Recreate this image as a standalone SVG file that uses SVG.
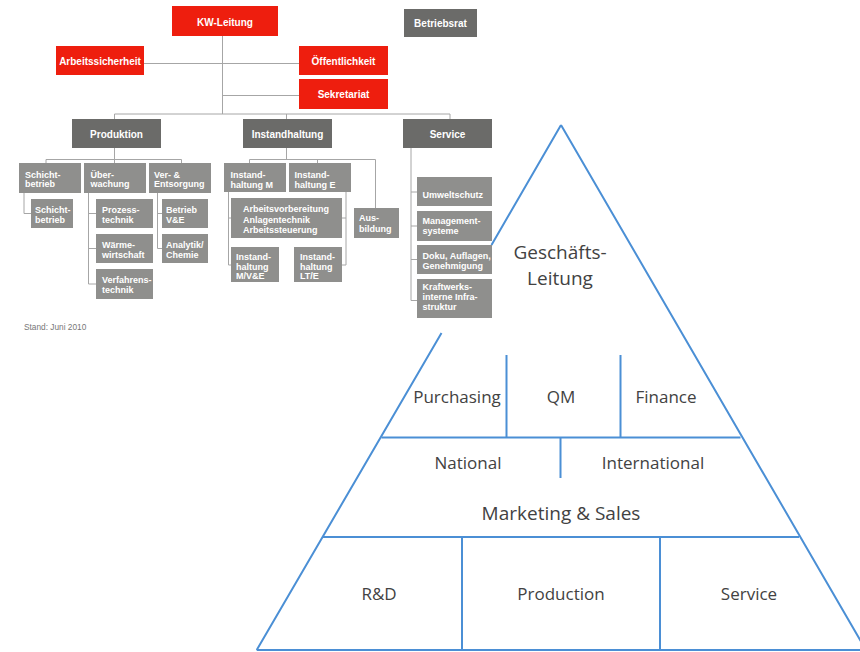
<svg xmlns="http://www.w3.org/2000/svg" width="860" height="652" viewBox="0 0 860 652">
<style>
.pl{stroke:#4b8fd5;stroke-width:2;fill:none;stroke-linecap:butt}
.pt{font-family:"Open Sans","Liberation Sans",sans-serif;fill:#424242;text-anchor:middle}
.red{fill:#ee1e0e}
.dk{fill:#6b6b69}
.md{fill:#8f8f8d}
.cn{stroke:#a6a6a6;stroke-width:1;fill:none}
.t1{font-family:"Liberation Sans",Arial,sans-serif;font-weight:bold;font-size:10px;fill:#fff;text-anchor:middle}
.t3{font-family:"Liberation Sans",Arial,sans-serif;font-weight:bold;font-size:9px;fill:#fff}
.st{font-family:"Liberation Sans",Arial,sans-serif;font-size:8.3px;fill:#777}
</style>

<g id="pyramid">
  <path class="pl" d="M561,125 L491.5,245 M441.5,333 L256.7,650 M561,125 L866,650"/>
  <path class="pl" d="M381.5,437.5 H740.5 M323,537 H799 M256.7,650 H860"/>
  <path class="pl" d="M506.5,355 V438 M620.5,355 V437.5 M560.5,437.5 V478 M462,537 V650 M660,537 V650"/>
  <g id="p-gl"><text class="pt" x="560" y="259" font-size="19">Geschäfts-</text><text class="pt" x="560" y="285" font-size="19">Leitung</text></g>
  <g id="p-purch"><text class="pt" x="457" y="403" font-size="17">Purchasing</text></g>
  <g id="p-qm"><text class="pt" x="561" y="403" font-size="17">QM</text></g>
  <g id="p-fin"><text class="pt" x="666" y="403" font-size="17">Finance</text></g>
  <g id="p-nat"><text class="pt" x="468" y="469" font-size="17">National</text></g>
  <g id="p-int"><text class="pt" x="653" y="469" font-size="17">International</text></g>
  <g id="p-ms"><text class="pt" x="561" y="519.5" font-size="19">Marketing &amp; Sales</text></g>
  <g id="p-rd"><text class="pt" x="379" y="600" font-size="17">R&amp;D</text></g>
  <g id="p-prod"><text class="pt" x="561" y="600" font-size="17">Production</text></g>
  <g id="p-serv"><text class="pt" x="749" y="600" font-size="17">Service</text></g>
</g>

<g id="connectors">
  <path class="cn" d="M222.5,36 V114 M144,63.5 H299 M222.5,95.5 H299 M114.5,114 H450 M114.5,114 V119 M286.5,114 V119 M450,114 V119"/>
  <path class="cn" d="M114.5,148 V163 M46,159.5 H181.5 M46,159.5 V163 M181.5,159.5 V163"/>
  <path class="cn" d="M24,193 V213.5 H31 M88.5,193 V284 H96 M88.5,213.5 H96 M88.5,248.5 H96 M157.5,193 V248.5 H162 M157.5,213.5 H162"/>
  <path class="cn" d="M286.5,148 V159.5 M249.5,159.5 H375.5 M249.5,159.5 V163 M317.5,159.5 V163 M375.5,159.5 V208"/>
  <path class="cn" d="M228.5,192 V265 H231 M228.5,218 H231 M346,192 V265 H342 M346,218 H342"/>
  <path class="cn" d="M411,148 V300.5 H417 M411,192 H417 M411,226 H417 M411,259.5 H417"/>
</g>

<g id="kw-leitung"><rect class="red" x="172" y="6" width="106" height="30"/><text class="t1" x="225" y="25.5" font-size="10.5">KW-Leitung</text></g>
<g id="betriebsrat"><rect class="dk" x="404" y="9" width="73" height="28"/><text class="t1" x="440.5" y="26.5">Betriebsrat</text></g>
<g id="arbeitssicherheit"><rect class="red" x="56" y="46" width="88" height="29"/><text class="t1" x="100" y="64.5">Arbeitssicherheit</text></g>
<g id="oeffentlichkeit"><rect class="red" x="299" y="46" width="89" height="29"/><text class="t1" x="343.5" y="64.5">Öffentlichkeit</text></g>
<g id="sekretariat"><rect class="red" x="299" y="79" width="89" height="30"/><text class="t1" x="343.5" y="98">Sekretariat</text></g>

<g id="produktion"><rect class="dk" x="72" y="119" width="89" height="29"/><text class="t1" x="116.5" y="137.5">Produktion</text></g>
<g id="instandhaltung"><rect class="dk" x="243" y="119" width="89" height="29"/><text class="t1" x="287.5" y="137.5">Instandhaltung</text></g>
<g id="service"><rect class="dk" x="403" y="119" width="89" height="29"/><text class="t1" x="447.5" y="137.5">Service</text></g>

<g id="schichtbetrieb"><rect class="md" x="19" y="163" width="62" height="30"/><text class="t3" x="25" y="177.5">Schicht-</text><text class="t3" x="25" y="187">betrieb</text></g>
<g id="ueberwachung"><rect class="md" x="84" y="163" width="62" height="30"/><text class="t3" x="90.5" y="177.5">Über-</text><text class="t3" x="90.5" y="187">wachung</text></g>
<g id="ver-entsorgung"><rect class="md" x="149" y="163" width="62" height="30"/><text class="t3" x="154" y="177.5">Ver- &amp;</text><text class="t3" x="154" y="187">Entsorgung</text></g>
<g id="schichtbetrieb-2"><rect class="md" x="31" y="199" width="42" height="29"/><text class="t3" x="35" y="212.5">Schicht-</text><text class="t3" x="35" y="222.5">betrieb</text></g>
<g id="prozesstechnik"><rect class="md" x="96" y="199" width="57" height="29"/><text class="t3" x="102" y="212.5">Prozess-</text><text class="t3" x="102" y="222.5">technik</text></g>
<g id="waermewirtschaft"><rect class="md" x="96" y="234" width="57" height="29"/><text class="t3" x="102" y="247.5">Wärme-</text><text class="t3" x="102" y="257.5">wirtschaft</text></g>
<g id="verfahrenstechnik"><rect class="md" x="96" y="269" width="57" height="30"/><text class="t3" x="102" y="282.5">Verfahrens-</text><text class="t3" x="102" y="292.5">technik</text></g>
<g id="betrieb-ve"><rect class="md" x="162" y="199" width="46" height="29"/><text class="t3" x="166" y="212.5">Betrieb</text><text class="t3" x="166" y="222.5">V&amp;E</text></g>
<g id="analytik"><rect class="md" x="162" y="234" width="46" height="29"/><text class="t3" x="166" y="247.5">Analytik/</text><text class="t3" x="166" y="257.5">Chemie</text></g>

<g id="instandhaltung-m"><rect class="md" x="224" y="163" width="62" height="29"/><text class="t3" x="230.5" y="177.5">Instand-</text><text class="t3" x="230.5" y="187.5">haltung M</text></g>
<g id="instandhaltung-e"><rect class="md" x="289" y="163" width="62" height="29"/><text class="t3" x="294.5" y="177.5">Instand-</text><text class="t3" x="294.5" y="187.5">haltung E</text></g>
<g id="arbeitsvorbereitung"><rect class="md" x="231" y="198" width="111" height="40"/><text class="t3" x="243" y="212">Arbeitsvorbereitung</text><text class="t3" x="243" y="222.5">Anlagentechnik</text><text class="t3" x="243" y="233">Arbeitssteuerung</text></g>
<g id="ausbildung"><rect class="md" x="354" y="208" width="45" height="30"/><text class="t3" x="359" y="221">Aus-</text><text class="t3" x="359" y="232">bildung</text></g>
<g id="instandhaltung-mve"><rect class="md" x="231" y="247" width="48" height="35"/><text class="t3" x="236" y="260">Instand-</text><text class="t3" x="236" y="269.5">haltung</text><text class="t3" x="236" y="279">M/V&amp;E</text></g>
<g id="instandhaltung-lte"><rect class="md" x="294" y="247" width="48" height="35"/><text class="t3" x="300" y="260">Instand-</text><text class="t3" x="300" y="269.5">haltung</text><text class="t3" x="300" y="279">LT/E</text></g>

<g id="umweltschutz"><rect class="md" x="417" y="177" width="75" height="29"/><text class="t3" x="422.5" y="197.5">Umweltschutz</text></g>
<g id="managementsysteme"><rect class="md" x="417" y="211" width="75" height="30"/><text class="t3" x="422.5" y="224">Management-</text><text class="t3" x="422.5" y="234">systeme</text></g>
<g id="doku"><rect class="md" x="417" y="245" width="75" height="29"/><text class="t3" x="422.5" y="259">Doku, Auflagen,</text><text class="t3" x="422.5" y="269">Genehmigung</text></g>
<g id="kraftwerks"><rect class="md" x="417" y="279" width="75" height="39"/><text class="t3" x="422.5" y="290">Kraftwerks-</text><text class="t3" x="422.5" y="299.5">interne Infra-</text><text class="t3" x="422.5" y="309.5">struktur</text></g>

<g id="stand"><text class="st" x="24" y="329.5">Stand: Juni 2010</text></g>
</svg>
